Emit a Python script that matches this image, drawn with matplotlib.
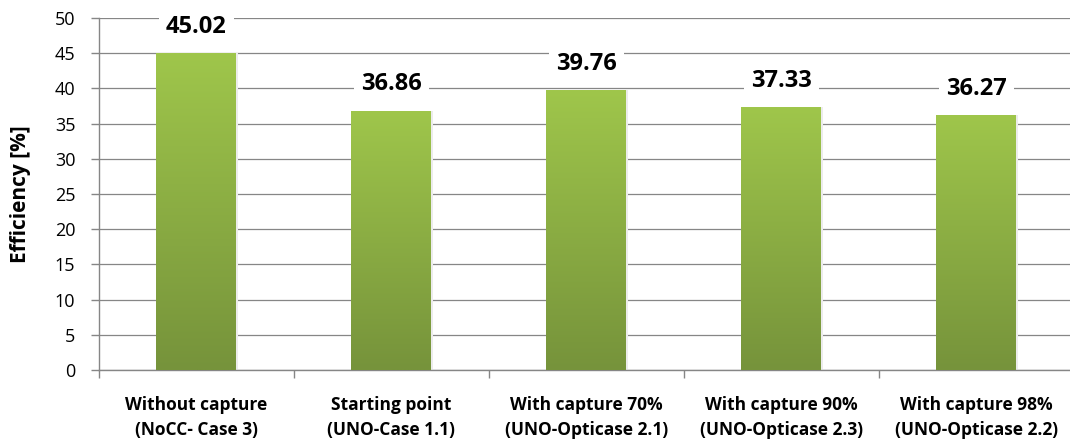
import numpy as np
import matplotlib
matplotlib.use("Agg")
import matplotlib.pyplot as plt
from matplotlib.colors import LinearSegmentedColormap

categories = [
    "Without capture\n(NoCC- Case 3)",
    "Starting point\n(UNO-Case 1.1)",
    "With capture 70%\n(UNO-Opticase 2.1)",
    "With capture 90%\n(UNO-Opticase 2.3)",
    "With capture 98%\n(UNO-Opticase 2.2)",
]
efficiency = [45.02, 36.86, 39.76, 37.33, 36.27]
y_ticks = [0, 5, 10, 15, 20, 25, 30, 35, 40, 45, 50]

plt.rcParams["font.family"] = ["Open Sans", "DejaVu Sans"]

fig = plt.figure(figsize=(10.7, 4.46), dpi=100)
ax = fig.add_axes([0.0925, 0.1704, 0.9112, 0.7892])

x = np.arange(len(categories))
bar_w = 0.41
bars = ax.bar(x, efficiency, width=bar_w, color="#8db544", zorder=3)

# vertical gradient fill for each bar
grad_cmap = LinearSegmentedColormap.from_list("green", ["#76933b", "#9fc64b"])
grad = np.linspace(0, 1, 256).reshape(-1, 1)
for b in bars:
    x0, w, h = b.get_x(), b.get_width(), b.get_height()
    # faint shadow on the right side
    ax.add_patch(plt.Rectangle((x0 + w, 0), 0.01, h, color="#ececec",
                               zorder=2, lw=0))
    im = ax.imshow(grad, extent=(x0, x0 + w, 0, h), origin="lower",
                   cmap=grad_cmap, aspect="auto", zorder=3.5)
    im.set_clip_path(b)

for xi, v in zip(x, efficiency):
    ax.text(xi, v + 3.7, f"{v:.2f}", ha="center", va="center",
            fontsize=17, fontweight="bold", color="#000000", zorder=5,
            bbox=dict(boxstyle="square,pad=0.3", fc="white", ec="none"))

ax.set_xlim(-0.5, len(categories) - 0.5)
ax.set_ylim(0, 50)
ax.set_yticks(y_ticks)
ax.tick_params(axis="y", labelsize=13, length=6, color="#868686",
               width=1, pad=11)
ax.set_yticklabels([str(t) for t in y_ticks])

ax.set_xticks(x)
ax.set_xticklabels(categories, fontsize=12.5, fontweight="bold",
                   linespacing=1.45)
ax.tick_params(axis="x", length=0, pad=19)
ax.set_xticks(np.arange(-0.5, len(categories), 1.0), minor=True)
ax.tick_params(axis="x", which="minor", length=6, color="#868686", width=1)

ax.yaxis.grid(True, color="#868686", lw=0.9, zorder=0)
ax.set_axisbelow(True)
for side in ("top", "right"):
    ax.spines[side].set_visible(False)
for side in ("left", "bottom"):
    ax.spines[side].set_color("#868686")
    ax.spines[side].set_linewidth(1)

ax.set_ylabel("Efficiency [%]", fontsize=15, fontweight="bold")
ax.yaxis.set_label_coords(-0.070, 0.5)

fig.savefig("out.png", dpi=100, facecolor="white")
